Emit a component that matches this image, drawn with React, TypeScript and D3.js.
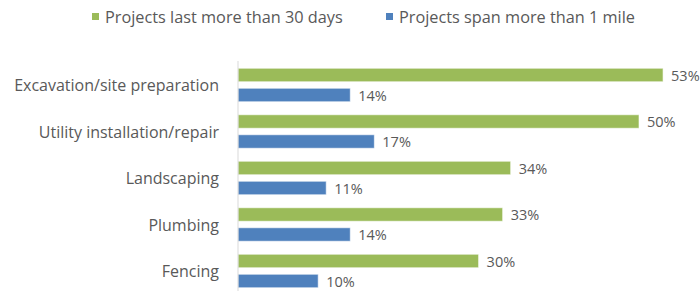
import React from 'react';
import * as d3 from 'd3';

// Chart data
const categories = [
  'Excavation/site preparation',
  'Utility installation/repair',
  'Landscaping',
  'Plumbing',
  'Fencing',
];
const seriesNames = ['Projects last more than 30 days', 'Projects span more than 1 mile'];
const longProjects = [53, 50, 34, 33, 30];
const wideProjects = [14, 17, 11, 14, 10];

const seriesValues = [longProjects, wideProjects];
const colors = ['#9BBB59', '#4F81BD'];

const W = 700;
const H = 291;
const FONT = "'Open Sans', 'Noto Sans', sans-serif";
const TEXT = '#595959';

const App: React.FC = () => {
  const x = d3.scaleLinear().domain([0, 55]).range([238, 238 + 55 * 8.02]);
  const y = d3.scaleBand<string>().domain(categories).range([61.75, 294.25]).padding(0);
  const inner = d3.scaleBand<string>().domain(seriesNames).range([0, y.bandwidth()]).padding(0.325);

  // legend layout
  const legendItems = [
    { x: 92, label: seriesNames[0], color: colors[0] },
    { x: 386, label: seriesNames[1], color: colors[1] },
  ];

  return (
    <svg
      width={W}
      height={H}
      style={{ position: 'absolute', left: 0, top: 0, background: '#fff' }}
      fontFamily={FONT}
    >
      {/* Legend */}
      {legendItems.map((d) => (
        <g key={d.label}>
          <rect x={d.x} y={13} width={7} height={7} fill={d.color} />
          <text x={d.x + 13} y={17} dominantBaseline="central" fontSize={16.3} fill={TEXT}>
            {d.label}
          </text>
        </g>
      ))}

      {/* Category labels */}
      {categories.map((c) => (
        <text
          key={c}
          x={219}
          y={(y(c) ?? 0) + y.bandwidth() / 2}
          dominantBaseline="central"
          textAnchor="end"
          fontSize={16}
          fill={TEXT}
        >
          {c}
        </text>
      ))}

      {/* Bars */}
      {categories.map((c, i) => (
        <g key={c} transform={`translate(0,${y(c)})`}>
          {seriesNames.map((s, j) => {
            const v = seriesValues[j][i];
            const by = inner(s) ?? 0;
            return (
              <g key={s}>
                <rect
                  x={x(0)}
                  y={by}
                  width={x(v) - x(0)}
                  height={inner.bandwidth()}
                  fill={colors[j]}
                  stroke="#ffffff"
                  strokeOpacity={0.6}
                  strokeWidth={1}
                />
                <text
                  x={x(v) + 8}
                  y={by + inner.bandwidth() / 2}
                  dominantBaseline="central"
                  fontSize={14.5}
                  fill={TEXT}
                >
                  {v}%
                </text>
              </g>
            );
          })}
        </g>
      ))}

      {/* Axis line */}
      <line x1={x(0)} x2={x(0)} y1={61} y2={H} stroke="#D9D9D9" strokeWidth={1} />
    </svg>
  );
};

export default App;
